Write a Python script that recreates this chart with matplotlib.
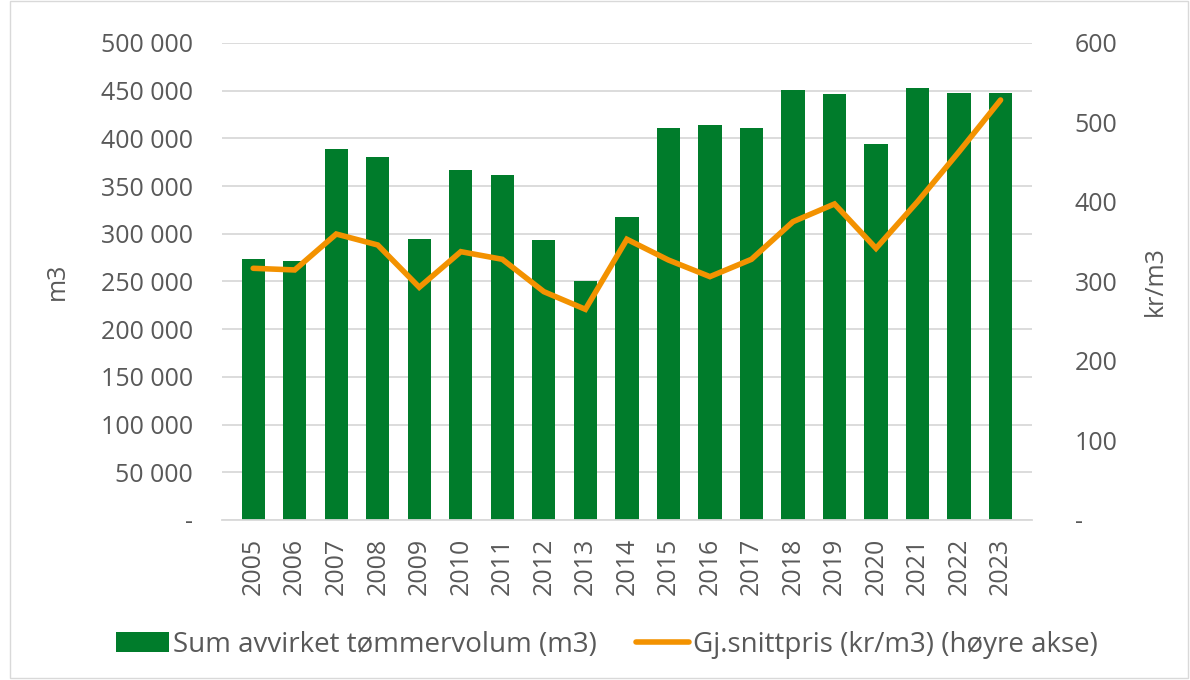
import numpy as np
import matplotlib.pyplot as plt
from matplotlib.ticker import FuncFormatter
from matplotlib.patches import Rectangle

years = [str(y) for y in range(2005, 2024)]
volum = [273300, 271800, 388600, 380500, 294500, 366500, 361300, 293500, 250500, 317600,
         410600, 414400, 411300, 450700, 446500, 393800, 452800, 447300, 447600]
pris = [316.6, 314.5, 359.7, 345.9, 292.7, 337.5, 327.9, 287.2, 265.0, 353.1,
        327.0, 306.1, 327.9, 375.2, 397.5, 341.7, 400.4, 463.3, 528.3]

green = '#007c2b'
orange = '#f39200'
grey = '#595959'

plt.rcParams['font.family'] = ['Open Sans', 'DejaVu Sans']

fig = plt.figure(figsize=(11.9, 6.8), dpi=100)
ax = fig.add_axes([0.1866, 0.2353, 0.6804, 0.7015])
ax2 = ax.twinx()

x = np.arange(len(years))
ax.bar(x, volum, width=0.56, color=green, label='Sum avvirket tømmervolum (m3)', zorder=2)
ax2.plot(x, pris, color=orange, lw=4, solid_capstyle='round', solid_joinstyle='miter',
         label='Gj.snittpris (kr/m3) (høyre akse)', zorder=3)

ax.set_xlim(-0.75, len(years) - 0.25)
ax.set_ylim(0, 500000)
ax2.set_ylim(0, 600)
ax.set_yticks(np.arange(0, 500001, 50000))
ax2.set_yticks(np.arange(0, 601, 100))

def fmt_left(v, pos):
    if v == 0:
        return '-'
    return '{:,.0f}'.format(v).replace(',', ' ')

def fmt_right(v, pos):
    if v == 0:
        return '-'
    return '{:.0f}'.format(v)

ax.yaxis.set_major_formatter(FuncFormatter(fmt_left))
ax2.yaxis.set_major_formatter(FuncFormatter(fmt_right))

ax.set_xticks(x)
ax.set_xticklabels(years, rotation=90)

ax.grid(axis='y', color='#d9d9d9', lw=1.3, zorder=0)
ax.set_axisbelow(True)
for a in (ax, ax2):
    for s in a.spines.values():
        s.set_visible(False)
    a.tick_params(length=0, labelsize=18, colors=grey)
ax.spines['bottom'].set_visible(True)
ax.spines['bottom'].set_color('#d9d9d9')
ax.spines['bottom'].set_linewidth(1.3)
ax.tick_params(axis='y', pad=21)
ax2.tick_params(axis='y', pad=31)
ax.tick_params(axis='x', pad=13)

ax.set_ylabel('m3', fontsize=18, color=grey, labelpad=22)
ax2.set_ylabel('kr/m3', fontsize=18, color=grey, labelpad=18)

h1, l1 = ax.get_legend_handles_labels()
h2, l2 = ax2.get_legend_handles_labels()
fig.legend(h1 + h2, l1 + l2, loc='center', bbox_to_anchor=(0.51, 0.052), ncol=2,
           frameon=False, fontsize=20, labelcolor=grey, columnspacing=1.4,
           handlelength=1.9, handletextpad=0.15)

fig.patches.append(Rectangle((0.008, 0.003), 0.99, 0.995, transform=fig.transFigure,
                             fill=False, edgecolor='#d9d9d9', lw=1))

fig.savefig('out.png', dpi=100)
